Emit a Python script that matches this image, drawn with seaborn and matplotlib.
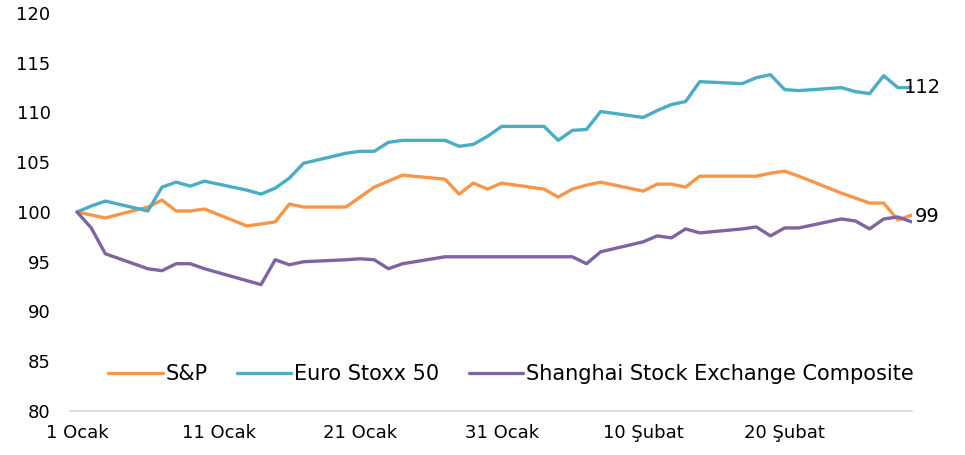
import matplotlib
matplotlib.use("Agg")
import matplotlib.pyplot as plt
import seaborn as sns
import pandas as pd
from matplotlib.lines import Line2D

# ---- data ----
days = [0, 1, 2, 5, 6, 7, 8, 9, 12, 13, 14, 15, 16, 19, 20, 21, 22, 23, 26, 27, 28, 29, 30,
        33, 34, 35, 36, 37, 40, 41, 42, 43, 44, 47, 48, 49, 50, 51, 54, 55, 56, 57, 58, 59]
sp = [100, 99.7, 99.4, 100.5, 101.2, 100.1, 100.1, 100.3, 98.6, 98.8, 99.0, 100.8, 100.5,
      100.5, 101.5, 102.5, 103.1, 103.7, 103.3, 101.8, 102.9, 102.3, 102.9,
      102.3, 101.5, 102.3, 102.7, 103.0, 102.1, 102.8, 102.8, 102.5, 103.6,
      103.6, 103.6, 103.9, 104.1, 103.6, 101.9, 101.4, 100.9, 100.9, 99.2, 99.7]
euro = [100, 100.6, 101.1, 100.1, 102.5, 103.0, 102.6, 103.1, 102.2, 101.8, 102.4, 103.4, 104.9,
        105.9, 106.1, 106.1, 107.0, 107.2, 107.2, 106.6, 106.8, 107.6, 108.6,
        108.6, 107.2, 108.2, 108.3, 110.1, 109.5, 110.2, 110.8, 111.1, 113.1,
        112.9, 113.5, 113.8, 112.3, 112.2, 112.5, 112.1, 111.9, 113.7, 112.5, 112.5]
shanghai = [100, 98.4, 95.8, 94.3, 94.1, 94.8, 94.8, 94.3, 93.1, 92.7, 95.2, 94.7, 95.0,
            95.2, 95.3, 95.2, 94.3, 94.8, 95.5, 95.5, 95.5, 95.5, 95.5,
            95.5, 95.5, 95.5, 94.8, 96.0, 97.0, 97.6, 97.4, 98.3, 97.9,
            98.3, 98.5, 97.6, 98.4, 98.4, 99.3, 99.1, 98.3, 99.3, 99.5, 99.0]
series_names = ["S&P", "Euro Stoxx 50", "Shanghai Stock Exchange Composite"]
colors = ["#F79646", "#4BACC6", "#8064A2"]
tick_days = [0, 10, 20, 30, 40, 50]
tick_labels = ["1 Ocak", "11 Ocak", "21 Ocak", "31 Ocak", "10 Şubat", "20 Şubat"]
y_ticks = [80, 85, 90, 95, 100, 105, 110, 115, 120]
end_labels = ["112", "99"]

df = pd.concat([
    pd.DataFrame({"day": days, "value": vals, "series": name})
    for name, vals in zip(series_names, [sp, euro, shanghai])
])

sns.set_theme(style="white")
plt.rcParams["font.family"] = ["DejaVu Sans"]
plt.rcParams["text.color"] = "black"

fig = plt.figure(figsize=(9.65, 4.55), dpi=100)
ax = fig.add_axes([70 / 965, 1 - 411 / 455, (912 - 70) / 965, (411 - 13) / 455])

sns.lineplot(data=df, x="day", y="value", hue="series", hue_order=series_names,
             palette=colors, linewidth=2.4, ax=ax, legend=False)

ax.set_xlim(-0.5, 59)
ax.set_ylim(80, 120)
ax.set_xticks(tick_days)
ax.set_xticklabels(tick_labels)
ax.set_yticks(y_ticks)
ax.set_xlabel("")
ax.set_ylabel("")
ax.tick_params(axis="both", length=0, labelsize=13, colors="black")
ax.tick_params(axis="y", pad=14)
ax.tick_params(axis="x", pad=9)

for s in ["top", "right", "left"]:
    ax.spines[s].set_visible(False)
ax.spines["bottom"].set_color("#D9D9D9")
ax.spines["bottom"].set_linewidth(1.3)

# end labels
ax.annotate(end_labels[0], xy=(days[-1], euro[-1]), xytext=(-6, 0), textcoords="offset points",
            ha="left", va="center", fontsize=14, color="black")
ax.annotate(end_labels[1], xy=(days[-1], sp[-1]), xytext=(2, -1), textcoords="offset points",
            ha="left", va="center", fontsize=14, color="black")

handles = [Line2D([], [], color=c, linewidth=2.4) for c in colors]
leg = ax.legend(handles, series_names, ncol=3, frameon=False, fontsize=15,
                loc="center", bbox_to_anchor=(441 / 842, 1 - (374 - 13) / 398),
                handlelength=2.6, handletextpad=0.15, columnspacing=1.4,
                borderpad=0, borderaxespad=0, labelcolor="black")

fig.savefig("out.png", dpi=100)
